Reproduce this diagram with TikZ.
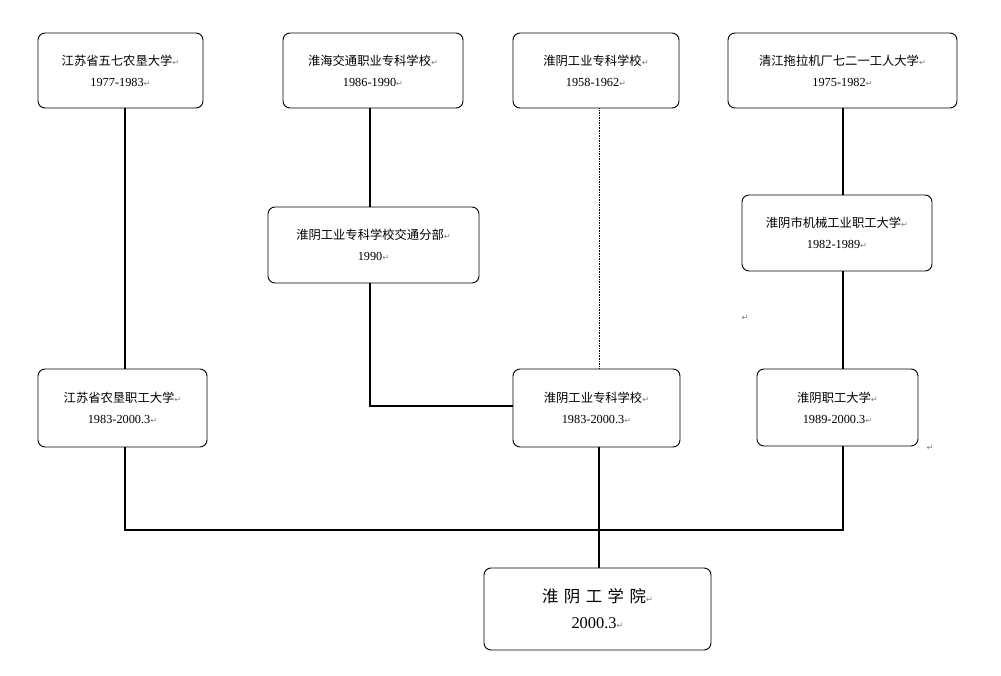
\documentclass[tikz,border=0pt]{standalone}
\usepackage{fontspec}
\setmainfont{Liberation Serif}
\newfontfamily\cjk{Noto Sans CJK SC}
\newfontfamily\markfont{DejaVu Sans}
\usetikzlibrary{positioning}
\newcommand{\parmark}{{\markfont\scriptsize\textcolor{gray}{↵}}}
\begin{document}
\begin{tikzpicture}[x=0.03cm,y=-0.03cm,
    box/.style = {draw, line width=0.8pt, rounded corners=6pt, align=center, font=\fontsize{10.5}{18}\selectfont, inner sep=0pt},
    link/.style = {line width=1.6pt},
    faint/.style = {densely dotted, thin}]
    \useasboundingbox (0,0) rectangle (1001,676);
    %Schulen
    \node[box, text width=4.95cm, minimum height=2.25cm] (nk) at (120.5,70.5) {{\cjk 江苏省五七农垦大学}\parmark\\1977-1983\parmark};
    \node[box, text width=5.4cm, minimum height=2.25cm] (hh) at (373,70.5) {{\cjk 淮海交通职业专科学校}\parmark\\1986-1990\parmark};
    \node[box, text width=4.98cm, minimum height=2.25cm] (hy) at (596,70.5) {{\cjk 淮阴工业专科学校}\parmark\\1958-1962\parmark};
    \node[box, text width=6.87cm, minimum height=2.25cm] (qj) at (842.5,70.5) {{\cjk 清江拖拉机厂七二一工人大学}\parmark\\1975-1982\parmark};
    \node[box, text width=6.33cm, minimum height=2.28cm] (jt) at (373.5,245) {{\cjk 淮阴工业专科学校交通分部}\parmark\\1990\parmark};
    \node[box, text width=5.7cm, minimum height=2.28cm] (jx) at (837,233) {{\cjk 淮阴市机械工业职工大学}\parmark\\1982-1989\parmark};
    \node[box, text width=5.07cm, minimum height=2.34cm] (nz) at (122.5,408) {{\cjk 江苏省农垦职工大学}\parmark\\1983-2000.3\parmark};
    \node[box, text width=5.01cm, minimum height=2.34cm] (hz) at (596.5,408) {{\cjk 淮阴工业专科学校}\parmark\\1983-2000.3\parmark};
    \node[box, text width=4.83cm, minimum height=2.31cm] (zd) at (837.5,407.5) {{\cjk 淮阴职工大学}\parmark\\1989-2000.3\parmark};
    \node[box, text width=6.81cm, minimum height=2.46cm, font=\fontsize{14}{22}\selectfont] (xy) at (597.5,609) {{\cjk 淮\ 阴\ 工\ 学\ 院}\parmark\\2000.3\parmark};
    %lose Absatzmarken
    \node (m1) at (745,318) {\parmark};
    \node (m2) at (930,448) {\parmark};
    %Hilfspunkte
    \coordinate (bend) at (370,406);
    \coordinate (jl) at (125,530);
    \coordinate (jr) at (843,530);
    %Kanten
    \draw[link] (nk.south -| 125,0) -- (nz.north -| 125,0);
    \draw[link] (hh.south -| 370,0) -- (jt.north -| 370,0);
    \draw[link] (jt.south -| 370,0) -- (bend) -- (bend -| hz.west);
    \draw[faint] (hy.south -| 599,0) -- (hz.north -| 599,0);
    \draw[link] (qj.south -| 843,0) -- (jx.north -| 843,0);
    \draw[link] (jx.south -| 843,0) -- (zd.north -| 843,0);
    \draw[link] (nz.south -| jl) -- (jl) -- (jr) -- (zd.south -| jr);
    \draw[link] (hz.south -| 599,0) -- (xy.north -| 599,0);
\end{tikzpicture}
\end{document}
